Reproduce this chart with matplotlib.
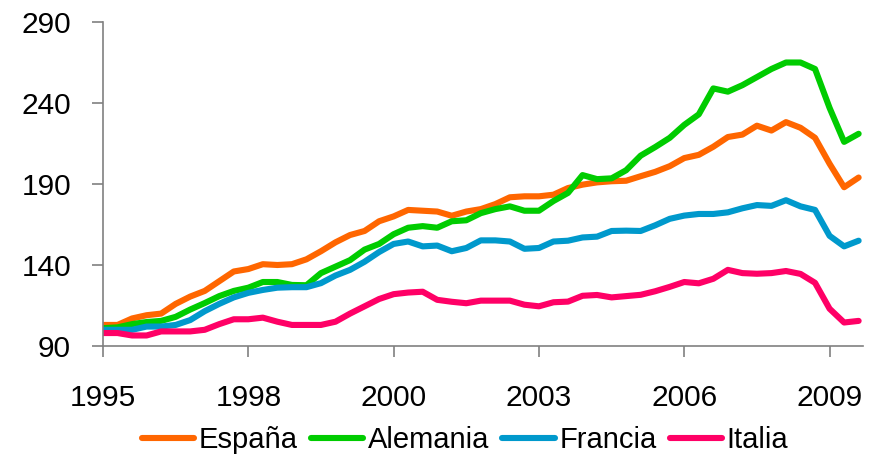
import numpy as np
import matplotlib
matplotlib.use("Agg")
import matplotlib.pyplot as plt

plt.rcParams['font.family'] = ['Liberation Sans', 'DejaVu Sans']

# quarterly-ish samples, 10 points per labelled tick
year_labels = ['1995', '1998', '2000', '2003', '2006', '2009']

espana = [103, 103, 107, 109, 110, 116, 120.5, 124, 130, 136,
          137.5, 140.5, 140, 140.5, 143.5, 148.5, 154, 158.5, 161, 167,
          170, 174, 173.5, 173, 170.4, 173, 174.5, 177.6, 181.8, 182.4,
          182.4, 183.4, 187.5, 189.6, 191, 191.7, 192, 194.8, 197.5, 201,
          206, 208, 213, 219, 220.5, 226, 223, 228.2, 224.7, 218.5,
          202.5, 188, 194]
alemania = [101, 101.5, 103.5, 104.8, 105.5, 108, 112.5, 116.5, 120.8, 124,
            126, 129.5, 129.5, 127.7, 127.5, 135, 139, 143, 149.5, 153,
            159, 163, 164, 163, 167, 167.6, 172, 174.5, 176.2, 173.5,
            173.5, 179.5, 184.5, 195.5, 193, 193.5, 198.5, 207.5, 212.8, 218.5,
            226.5, 233, 249, 247, 251, 256, 261, 265, 265, 261,
            237, 216, 221]
francia = [100, 100, 100, 102, 102, 103, 106, 111.5, 116, 120,
           122.8, 124.6, 126, 126.3, 126.3, 128.8, 133.5, 137, 142, 148,
           153, 154.5, 151.5, 152, 148.5, 150.5, 155.2, 155.2, 154.5, 150,
           150.5, 154.5, 155, 157, 157.5, 161, 161.2, 161, 164.5, 168.5,
           170.5, 171.5, 171.5, 172.5, 175, 177, 176.5, 180, 176.2, 174,
           158, 151.5, 155]
italia = [98, 98, 96.5, 96.5, 99, 99, 99, 100, 103.5, 106.5,
          106.5, 107.5, 105, 103, 103, 103, 105, 110, 114.5, 119,
          122, 123, 123.5, 118.5, 117.3, 116.4, 118, 118, 118, 115.5,
          114.5, 117, 117.4, 121, 121.5, 120, 120.8, 121.6, 123.8, 126.5,
          129.5, 128.7, 131.5, 137, 135, 134.6, 135, 136.3, 134.5, 129,
          113, 104.5, 105.5]

series = [('España', espana, '#FF6600'),
          ('Alemania', alemania, '#00CC00'),
          ('Francia', francia, '#0099CC'),
          ('Italia', italia, '#FF0066')]

x = np.arange(len(espana))

fig = plt.figure(figsize=(8.75, 4.58), dpi=100)
ax = fig.add_axes([103/875, 1-346/458, (863-103)/875, (346-22)/458])

for name, vals, col in series:
    ax.plot(x, vals, color=col, lw=4.4, label=name, solid_capstyle='round',
            solid_joinstyle='round')

ax.set_xlim(0, 52.3)
ax.set_ylim(90, 290)
ax.set_yticks(range(90, 291, 50))
ax.set_xticks(range(0, 51, 10))
ax.set_xticklabels(year_labels)

for s in ['top', 'right']:
    ax.spines[s].set_visible(False)
for s in ['left', 'bottom']:
    ax.spines[s].set_color('#808080')
    ax.spines[s].set_linewidth(1.2)

ax.tick_params(axis='both', colors='#808080', labelcolor='black',
               labelsize=21.5, length=8, width=1.2, direction='out')
ax.tick_params(axis='x', pad=19)
ax.tick_params(axis='y', pad=15)

fig.legend(loc='center', bbox_to_anchor=(465/875, 1-440/458), ncol=4,
           frameon=False, fontsize=21, handlelength=1.8, handletextpad=0.15,
           columnspacing=0.45, borderpad=0)

fig.savefig('out.png', dpi=100)
